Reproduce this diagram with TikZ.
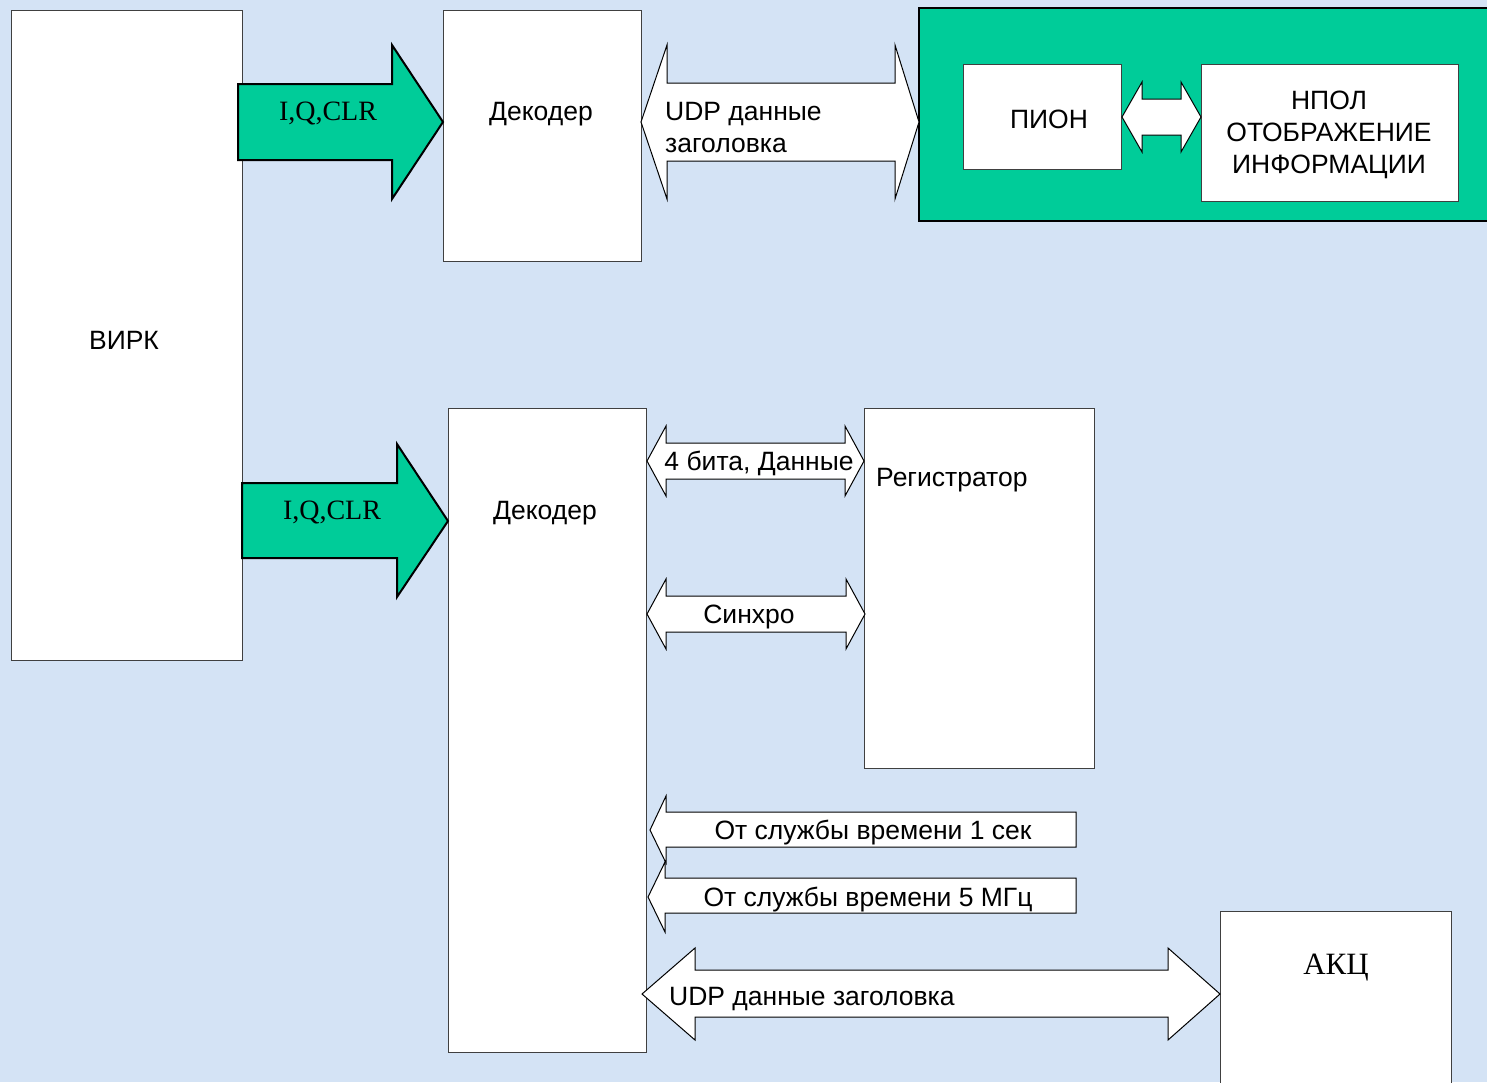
\documentclass[tikz,border=0pt]{standalone}
\usepackage{fontspec}
\setmainfont{Liberation Sans}
\newfontfamily\serifrm{Liberation Serif}
\definecolor{bg}{RGB}{212,227,245}
\definecolor{grn}{RGB}{0,204,153}
\begin{document}
\begin{tikzpicture}[x=1pt,y=-1pt,
  box/.style={draw=black!75, line width=1pt, fill=white, inner sep=0pt},
  blk/.style={draw=black, line width=1pt, fill=white, line join=miter},
  garrow/.style={draw=black, line width=2pt, fill=grn, line join=miter},
  lbl/.style={font=\fontsize{26.5}{32}\selectfont, inner sep=0pt, yshift=-2.5pt},
  slbl/.style={font=\serifrm\fontsize{28}{32}\selectfont, inner sep=0pt, yshift=-1.5pt}]
\fill[bg] (0,0) rectangle (1487,1082);
\useasboundingbox (0,0) rectangle (1487,1082);

% green panel (open on the right)
\fill[grn] (919,8) rectangle (1490,221);
\draw[line width=2pt] (1490,8) -- (919,8) -- (919,221) -- (1490,221);

% boxes
\node[box, minimum width=231pt, minimum height=650pt] (virk) at (126.5,335) {};
\node[lbl] at (124,338) {ВИРК};
\node[box, minimum width=198pt, minimum height=251pt] (dec1) at (542,135.5) {};
\node[lbl] at (541,112) {Декодер};
\node[box, minimum width=198pt, minimum height=644pt] (dec2) at (547,730) {};
\node[lbl] at (545,511) {Декодер};
\node[box, minimum width=230pt, minimum height=360pt] (reg) at (979,588) {};
\node[lbl, anchor=west] at (876,478) {Регистратор};
\node[box, minimum width=158pt, minimum height=105pt] (pion) at (1042,116.5) {};
\node[lbl] at (1049,117) {ПИОН};
\node[box, minimum width=257pt, minimum height=137pt] (npol) at (1329.5,132.5) {};
\node[lbl, align=center] at (1329,132) {НПОЛ\\ОТОБРАЖЕНИЕ\\ИНФОРМАЦИИ};
% AKC box open at bottom
\fill[white] (1220,911) rectangle (1451,1085);
\draw[black!75, line width=1pt] (1220,1085) -- (1220,911) -- (1451,911) -- (1451,1085);
\coordinate (akc) at (1220,994);
\node[slbl, font=\serifrm\fontsize{31}{34}\selectfont] at (1336,966) {АКЦ};

% green arrows VIRK -> decoders
\draw[garrow] (238,84) -- (392,84) -- (392,45) -- (443,122) -- (392,199) -- (392,160) -- (238,160) -- cycle;
\node[slbl] at (328,112) {I,Q,CLR};
\draw[garrow] (242,483) -- (397,483) -- (397,444) -- (448,521) -- (397,597) -- (397,558) -- (242,558) -- cycle;
\node[slbl] at (332,511) {I,Q,CLR};

% UDP top double arrow
\draw[blk] (641,122) -- (667,45) -- (667,83) -- (895,83) -- (895,45) -- (919,122) -- (895,199) -- (895,161) -- (667,161) -- (667,199) -- cycle;
\node[lbl, anchor=west, align=left] at (665,125) {UDP данные\\заголовка};

% PION <-> NPOL
\draw[blk] (1122,117) -- (1142,82) -- (1142,99) -- (1181,99) -- (1181,82) -- (1201,117) -- (1181,152) -- (1181,135) -- (1142,135) -- (1142,152) -- cycle;

% 4 bita
\draw[blk] (647,461) -- (666,426) -- (666,443) -- (845,443) -- (845,426) -- (864,461) -- (845,496) -- (845,479) -- (666,479) -- (666,496) -- cycle;
\node[lbl] at (759,461) {4 бита, Данные};

% Sinhro
\draw[blk] (647,614) -- (666,579) -- (666,596) -- (846,596) -- (846,579) -- (865,614) -- (846,649) -- (846,632) -- (666,632) -- (666,649) -- cycle;
\node[lbl] at (749,614) {Синхро};

% from time service 1 s
\draw[blk] (1076,812) -- (666,812) -- (666,796) -- (650,830) -- (666,863) -- (666,847) -- (1076,847) -- cycle;
\node[lbl] at (873,830) {От службы времени 1 сек};

% from time service 5 MHz
\draw[blk] (1076,878) -- (665,878) -- (665,862) -- (648,897) -- (665,932) -- (665,913) -- (1076,913) -- cycle;
\node[lbl] at (868,897) {От службы времени 5 МГц};

% UDP bottom double arrow
\draw[blk] (642,994) -- (695,948) -- (695,970) -- (1168,970) -- (1168,948) -- (1220,994) -- (1168,1040) -- (1168,1017) -- (695,1017) -- (695,1040) -- cycle;
\node[lbl, anchor=west] at (669,997) {UDP данные заголовка};
\end{tikzpicture}
\end{document}
